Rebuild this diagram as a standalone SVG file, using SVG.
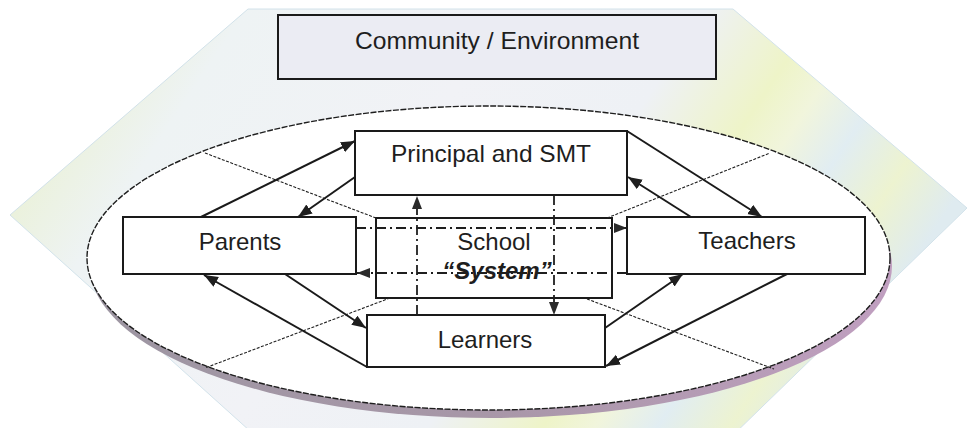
<svg xmlns="http://www.w3.org/2000/svg" width="968" height="428" viewBox="0 0 968 428">
  <defs>
    <!-- pale pastel wash for the outer community hexagon -->
    <linearGradient id="hexFill" x1="0" y1="0.1" x2="1" y2="0.4">
      <stop offset="0" stop-color="#e2ecb0"/>
      <stop offset="0.08" stop-color="#eaf1d6"/>
      <stop offset="0.2" stop-color="#eef3f4"/>
      <stop offset="0.45" stop-color="#f1f2f6"/>
      <stop offset="0.64" stop-color="#eef1f5"/>
      <stop offset="0.75" stop-color="#eef4c8"/>
      <stop offset="0.8" stop-color="#f1f5dc"/>
      <stop offset="0.86" stop-color="#e1edf2"/>
      <stop offset="0.93" stop-color="#edf3d0"/>
      <stop offset="1" stop-color="#dfebf0"/>
    </linearGradient>
    <!-- shaded rim under the school ellipse -->
    <linearGradient id="rimShade" x1="0" y1="0" x2="1" y2="0">
      <stop offset="0" stop-color="#9d96a2"/>
      <stop offset="0.5" stop-color="#a897a8"/>
      <stop offset="1" stop-color="#c09fc0"/>
    </linearGradient>
    <marker id="head" markerUnits="userSpaceOnUse" markerWidth="15" markerHeight="12" refX="14" refY="5.5" orient="auto">
      <path d="M0,0 L14,5.5 L0,11 z" fill="#1e1e1e"/>
    </marker>
    <marker id="headSmall" markerUnits="userSpaceOnUse" markerWidth="14" markerHeight="11" refX="13" refY="5" orient="auto">
      <path d="M0,0 L13,5 L0,10 z" fill="#2a2a2a"/>
    </marker>
  </defs>
  <style>
    .box{fill:#ffffff;stroke:#1a1a1a;stroke-width:2}
    .lbl{font-family:"Liberation Sans",Arial,sans-serif;font-size:24px;fill:#1e1e1e;text-anchor:middle}
    .sys{font-weight:bold;font-style:italic}
    .flow{stroke:#1a1a1a;stroke-width:2;fill:none;marker-end:url(#head)}
    .link{stroke:#1e1e1e;stroke-width:1.8;stroke-dasharray:10 4 2 4;fill:none;marker-end:url(#headSmall)}
    .cross{stroke:#222;stroke-width:1.1;stroke-dasharray:3 1.5;fill:none}
  </style>

  <!-- outer environment -->
  <polygon points="248,9 733,9 967,208 728,440 260,440 10,215" fill="url(#hexFill)" stroke="#d2e2ea" stroke-width="1"/>

  <g id="community">
    <rect x="278" y="15" width="438" height="64" fill="#ebecf3" stroke="#1a1a1a" stroke-width="2"/>
    <text class="lbl" x="497" y="49" textLength="284" lengthAdjust="spacingAndGlyphs">Community / Environment</text>
  </g>

  <!-- school ellipse with shaded rim -->
  <g id="school-ellipse">
    <ellipse cx="491" cy="266" rx="401" ry="152" fill="url(#rimShade)"/>
    <ellipse cx="488.5" cy="258" rx="401.5" ry="152" fill="#ffffff" stroke="#1e1e1e" stroke-width="1.4" stroke-dasharray="6 1.5"/>
  </g>

  <g id="principal">
    <rect class="box" x="355" y="131" width="272" height="64"/>
    <text class="lbl" x="491" y="162" textLength="200" lengthAdjust="spacingAndGlyphs">Principal and SMT</text>
  </g>

  <g id="parents">
    <rect class="box" x="123" y="217" width="233" height="57"/>
    <text class="lbl" x="240" y="250">Parents</text>
  </g>

  <g id="teachers">
    <rect class="box" x="627" y="217" width="238" height="57"/>
    <text class="lbl" x="747" y="249">Teachers</text>
  </g>

  <g id="school">
    <rect class="box" x="376" y="218" width="236" height="80"/>
    <text class="lbl" x="494" y="250">School</text>
    <text class="lbl sys" x="497" y="279">“System”</text>
  </g>

  <g id="learners">
    <rect class="box" x="367" y="315" width="238" height="52"/>
    <text class="lbl" x="485" y="348">Learners</text>
  </g>

  <g id="connectors">
    <!-- fine dashed cross through the school -->
    <line class="cross" x1="205" y1="153" x2="376" y2="218"/>
    <line class="cross" x1="607" y1="218" x2="770" y2="153"/>
    <line class="cross" x1="390" y1="298" x2="205" y2="368"/>
    <line class="cross" x1="587" y1="299" x2="774" y2="369"/>

    <!-- two-way flows between the stakeholders -->
    <line class="flow" x1="201" y1="217" x2="355" y2="141"/>
    <line class="flow" x1="355" y1="177" x2="298" y2="217"/>
    <line class="flow" x1="627" y1="131" x2="762" y2="217"/>
    <line class="flow" x1="691" y1="217" x2="628" y2="177"/>
    <line class="flow" x1="285" y1="274" x2="366" y2="328"/>
    <line class="flow" x1="367" y1="367" x2="204" y2="275"/>
    <line class="flow" x1="605" y1="328" x2="683" y2="274"/>
    <line class="flow" x1="787" y1="274" x2="606" y2="366"/>

    <!-- dash-dot flows through the school system -->
    <line class="link" x1="356" y1="228" x2="627" y2="228"/>
    <line class="link" x1="627" y1="273" x2="357" y2="273"/>
    <line class="link" x1="417" y1="315" x2="417" y2="196"/>
    <line class="link" x1="554" y1="195" x2="554" y2="315"/>
  </g>
</svg>
